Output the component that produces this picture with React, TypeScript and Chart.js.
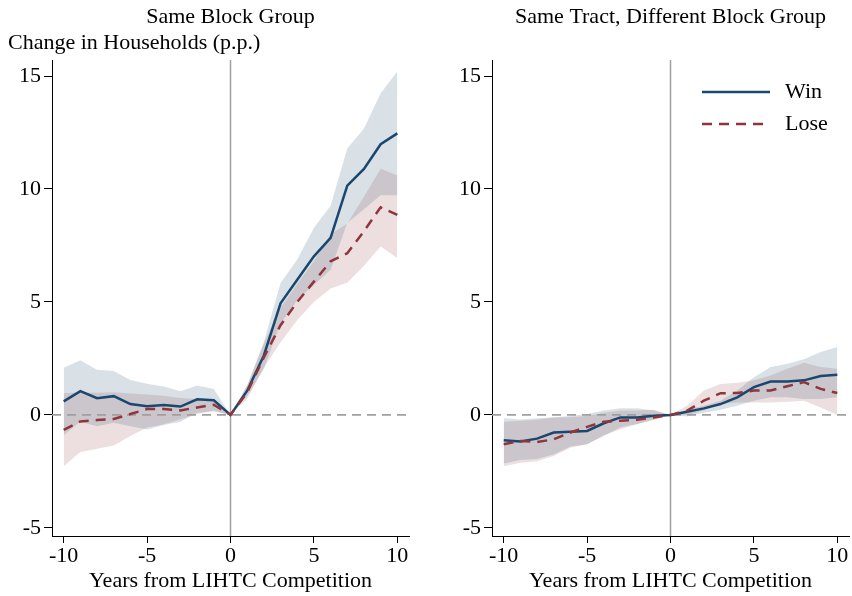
import React, { useEffect, useRef } from "react";
import { Chart, registerables } from "chart.js";

Chart.register(...registerables);

// ---------------- data ----------------
const years = [-10, -9, -8, -7, -6, -5, -4, -3, -2, -1, 0, 1, 2, 3, 4, 5, 6, 7, 8, 9, 10];

// Panel 1: Same Block Group
const sbgWin = [0.6, 1.05, 0.74, 0.83, 0.48, 0.38, 0.44, 0.37, 0.69, 0.65, 0, 1.07, 2.63, 4.94, 5.98, 7.02, 7.84, 10.15, 10.89, 11.98, 12.46];
const sbgWinHi = [2.09, 2.42, 2.0, 1.94, 1.55, 1.38, 1.26, 1.05, 1.3, 1.15, 0, 1.3, 3.23, 5.84, 6.88, 8.29, 9.26, 11.79, 12.68, 14.24, 15.2];
const sbgWinLo = [-0.9, -0.3, -0.5, -0.35, -0.5, -0.65, -0.45, -0.3, 0.1, 0.15, 0, 0.84, 2.03, 4.04, 5.08, 5.75, 6.42, 8.5, 9.1, 9.72, 9.72];
const sbgLose = [-0.66, -0.29, -0.23, -0.18, 0.04, 0.26, 0.26, 0.2, 0.33, 0.45, 0, 1.0, 2.55, 3.97, 5.0, 5.9, 6.8, 7.16, 8.13, 9.19, 8.85];
const sbgLoseHi = [0.96, 1.0, 0.98, 1.0, 0.95, 0.9, 0.85, 0.75, 0.7, 0.65, 0, 1.3, 3.16, 4.74, 5.8, 6.8, 8.0, 8.47, 9.66, 10.9, 10.6];
const sbgLoseLo = [-2.27, -1.64, -1.5, -1.35, -0.93, -0.56, -0.41, -0.19, 0.04, 0.19, 0, 0.7, 2.1, 3.2, 4.2, 5.0, 5.6, 5.85, 6.6, 7.45, 6.95];

// Panel 2: Same Tract, Different Block Group
const stWin = [-1.12, -1.18, -1.05, -0.78, -0.74, -0.71, -0.37, -0.11, -0.11, -0.04, 0, 0.14, 0.29, 0.48, 0.78, 1.23, 1.48, 1.48, 1.53, 1.72, 1.78];
const stWinHi = [-0.15, -0.2, -0.15, -0.1, -0.05, 0.04, 0.19, 0.29, 0.29, 0.2, 0, 0.23, 0.41, 0.63, 1.08, 1.67, 2.12, 2.27, 2.46, 2.79, 3.01];
const stWinLo = [-2.15, -2.0, -1.95, -1.75, -1.4, -1.3, -0.93, -0.55, -0.4, -0.2, 0, -0.07, 0.1, 0.23, 0.41, 0.63, 0.78, 0.78, 0.7, 0.7, 0.78];
const stLose = [-1.3, -1.15, -1.2, -1.08, -0.78, -0.53, -0.3, -0.26, -0.21, -0.11, 0, 0.19, 0.63, 0.96, 0.97, 1.08, 1.08, 1.27, 1.45, 1.15, 0.97];
const stLoseHi = [-0.3, -0.26, -0.21, -0.11, -0.1, -0.05, 0.1, 0.2, 0.2, 0.23, 0, 0.41, 1.08, 1.37, 1.42, 1.53, 1.75, 2.04, 2.31, 2.12, 2.04];
const stLoseLo = [-2.27, -2.12, -2.05, -1.82, -1.45, -1.3, -0.9, -0.63, -0.41, -0.21, 0, 0.0, 0.2, 0.48, 0.55, 0.55, 0.55, 0.58, 0.63, 0.33, 0.0];

const xTicks = [-10, -5, 0, 5, 10];
const yTicks = [-5, 0, 5, 10, 15];
const xRange = [-10.7, 10.7];
const yRange = [-5.36, 15.71];
const legendLabels = ["Win", "Lose"];
const panelTitles = ["Same Block Group", "Same Tract, Different Block Group"];
const yAxisTitle = "Change in Households (p.p.)";
const xAxisTitle = "Years from LIHTC Competition";

// ---------------- styles ----------------
const FONT = "'Liberation Serif', 'Times New Roman', Times, serif";
const FS = 22;
const BLUE = "#1a476f";
const RED = "#90353b";
const BLUE_BAND = "rgba(26,71,111,0.165)";
const RED_BAND = "rgba(144,53,59,0.16)";
const REF_GRAY = "#a0a0a0";

const panelLegend = {
  id: "panelLegend",
  afterDraw(chart: any, _args: any, opts: any) {
    if (!opts || !opts.show) return;
    const { ctx, chartArea } = chart;
    const items = [
      { text: legendLabels[0], color: BLUE, dash: [] as number[] },
      { text: legendLabels[1], color: RED, dash: [10, 7] },
    ];
    ctx.save();
    items.forEach((it, i) => {
      const y = chartArea.top + 32 + i * 32;
      ctx.beginPath();
      ctx.setLineDash(it.dash);
      ctx.strokeStyle = it.color;
      ctx.lineWidth = 2.5;
      ctx.moveTo(chartArea.right - 147, y);
      ctx.lineTo(chartArea.right - 79, y);
      ctx.stroke();
      ctx.setLineDash([]);
      ctx.fillStyle = "#000";
      ctx.font = `${FS}px ${FONT}`;
      ctx.textBaseline = "middle";
      ctx.textAlign = "left";
      ctx.fillText(it.text, chartArea.right - 64, y);
    });
    ctx.restore();
  },
};

type PanelDef = {
  title: string;
  subtitle: string | null;
  win: number[];
  winLo: number[];
  winHi: number[];
  lose: number[];
  loseLo: number[];
  loseHi: number[];
  legend: boolean;
  yAxisWidth: number;
  padLeft: number;
  padRight: number;
};

const pts = (vals: number[]) => years.map((x, i) => ({ x, y: vals[i] }));

function makeConfig(p: PanelDef): any {
  const band = (vals: number[], fill: any, color: string) => ({
    data: pts(vals),
    borderWidth: 0,
    pointRadius: 0,
    fill,
    backgroundColor: color,
    borderColor: "transparent",
    order: 10,
  });
  return {
    type: "line",
    data: {
      datasets: [
        band(p.winLo, false, "transparent"),
        band(p.winHi, "-1", BLUE_BAND),
        band(p.loseLo, false, "transparent"),
        band(p.loseHi, "-1", RED_BAND),
        {
          data: [
            { x: xRange[0], y: 0 },
            { x: xRange[1], y: 0 },
          ],
          borderColor: REF_GRAY,
          borderWidth: 1.8,
          borderDash: [9, 6],
          pointRadius: 0,
          fill: false,
          order: 5,
        },
        {
          data: [
            { x: 0, y: yRange[0] },
            { x: 0, y: yRange[1] },
          ],
          borderColor: REF_GRAY,
          borderWidth: 1.5,
          pointRadius: 0,
          fill: false,
          order: 5,
        },
        {
          label: legendLabels[0],
          data: pts(p.win),
          borderColor: BLUE,
          borderWidth: 2.5,
          pointRadius: 0,
          fill: false,
          tension: 0,
          order: 1,
        },
        {
          label: legendLabels[1],
          data: pts(p.lose),
          borderColor: RED,
          borderWidth: 2.5,
          borderDash: [10, 7],
          pointRadius: 0,
          fill: false,
          tension: 0,
          order: 0,
        },
      ],
    },
    options: {
      animation: false,
      responsive: false,
      events: [],
      layout: { padding: { left: p.padLeft, right: p.padRight, top: 0, bottom: 0 }, autoPadding: false },
      plugins: {
        legend: { display: false },
        tooltip: { enabled: false },
        title: {
          display: true,
          text: p.title,
          fullSize: false,
          color: "#000",
          font: { family: FONT, size: FS, weight: "normal", lineHeight: 1.2 },
          padding: { top: 4, bottom: p.subtitle ? 0 : 29.6 },
        },
        subtitle: {
          display: !!p.subtitle,
          text: p.subtitle || "",
          align: "start",
          fullSize: true,
          color: "#000",
          font: { family: FONT, size: FS, weight: "normal", lineHeight: 1.2 },
          padding: { top: 0, bottom: 3.2 },
        },
        panelLegend: { show: p.legend },
      },
      scales: {
        x: {
          type: "linear",
          min: xRange[0],
          max: xRange[1],
          afterBuildTicks: (s: any) => {
            s.ticks = xTicks.map((v) => ({ value: v }));
          },
          afterFit: (s: any) => {
            s.height = 60;
          },
          grid: { display: true, drawOnChartArea: false, drawTicks: true, tickLength: 7, tickColor: "#000", tickWidth: 1 },
          border: { display: true, color: "#000", width: 1 },
          ticks: {
            color: "#000",
            padding: 0,
            maxRotation: 0,
            autoSkip: false,
            font: { family: FONT, size: FS, lineHeight: 1.2 },
          },
          title: {
            display: true,
            text: xAxisTitle,
            color: "#000",
            font: { family: FONT, size: FS, lineHeight: 1.2 },
            padding: { top: 0, bottom: 2 },
          },
        },
        y: {
          type: "linear",
          min: yRange[0],
          max: yRange[1],
          afterBuildTicks: (s: any) => {
            s.ticks = yTicks.map((v) => ({ value: v }));
          },
          afterFit: (s: any) => {
            s.width = p.yAxisWidth;
          },
          grid: { display: true, drawOnChartArea: false, drawTicks: true, tickLength: 8, tickColor: "#000", tickWidth: 1 },
          border: { display: true, color: "#000", width: 1 },
          ticks: {
            color: "#000",
            padding: 3,
            autoSkip: false,
            font: { family: FONT, size: FS, lineHeight: 1.2 },
          },
        },
      },
    },
    plugins: [panelLegend],
  };
}

const panels: PanelDef[] = [
  {
    title: panelTitles[0],
    subtitle: yAxisTitle,
    win: sbgWin,
    winLo: sbgWinLo,
    winHi: sbgWinHi,
    lose: sbgLose,
    loseLo: sbgLoseLo,
    loseHi: sbgLoseHi,
    legend: false,
    yAxisWidth: 44,
    padLeft: 8,
    padRight: 31,
  },
  {
    title: panelTitles[1],
    subtitle: null,
    win: stWin,
    winLo: stWinLo,
    winHi: stWinHi,
    lose: stLose,
    loseLo: stLoseLo,
    loseHi: stLoseHi,
    legend: true,
    yAxisWidth: 52,
    padLeft: 0,
    padRight: 3,
  },
];

function Panel({ def, left, width }: { def: PanelDef; left: number; width: number }) {
  const ref = useRef<HTMLCanvasElement>(null);
  useEffect(() => {
    const chart = new Chart(ref.current as HTMLCanvasElement, makeConfig(def));
    return () => chart.destroy();
  }, [def]);
  return (
    <canvas
      ref={ref}
      width={width}
      height={596}
      style={{ position: "absolute", left, top: 0, width, height: 596 }}
    />
  );
}

export default function App() {
  return (
    <div style={{ position: "absolute", left: 0, top: 0, width: 852, height: 596, background: "#fff", overflow: "hidden" }}>
      <Panel def={panels[0]} left={0} width={440} />
      <Panel def={panels[1]} left={440} width={412} />
    </div>
  );
}
